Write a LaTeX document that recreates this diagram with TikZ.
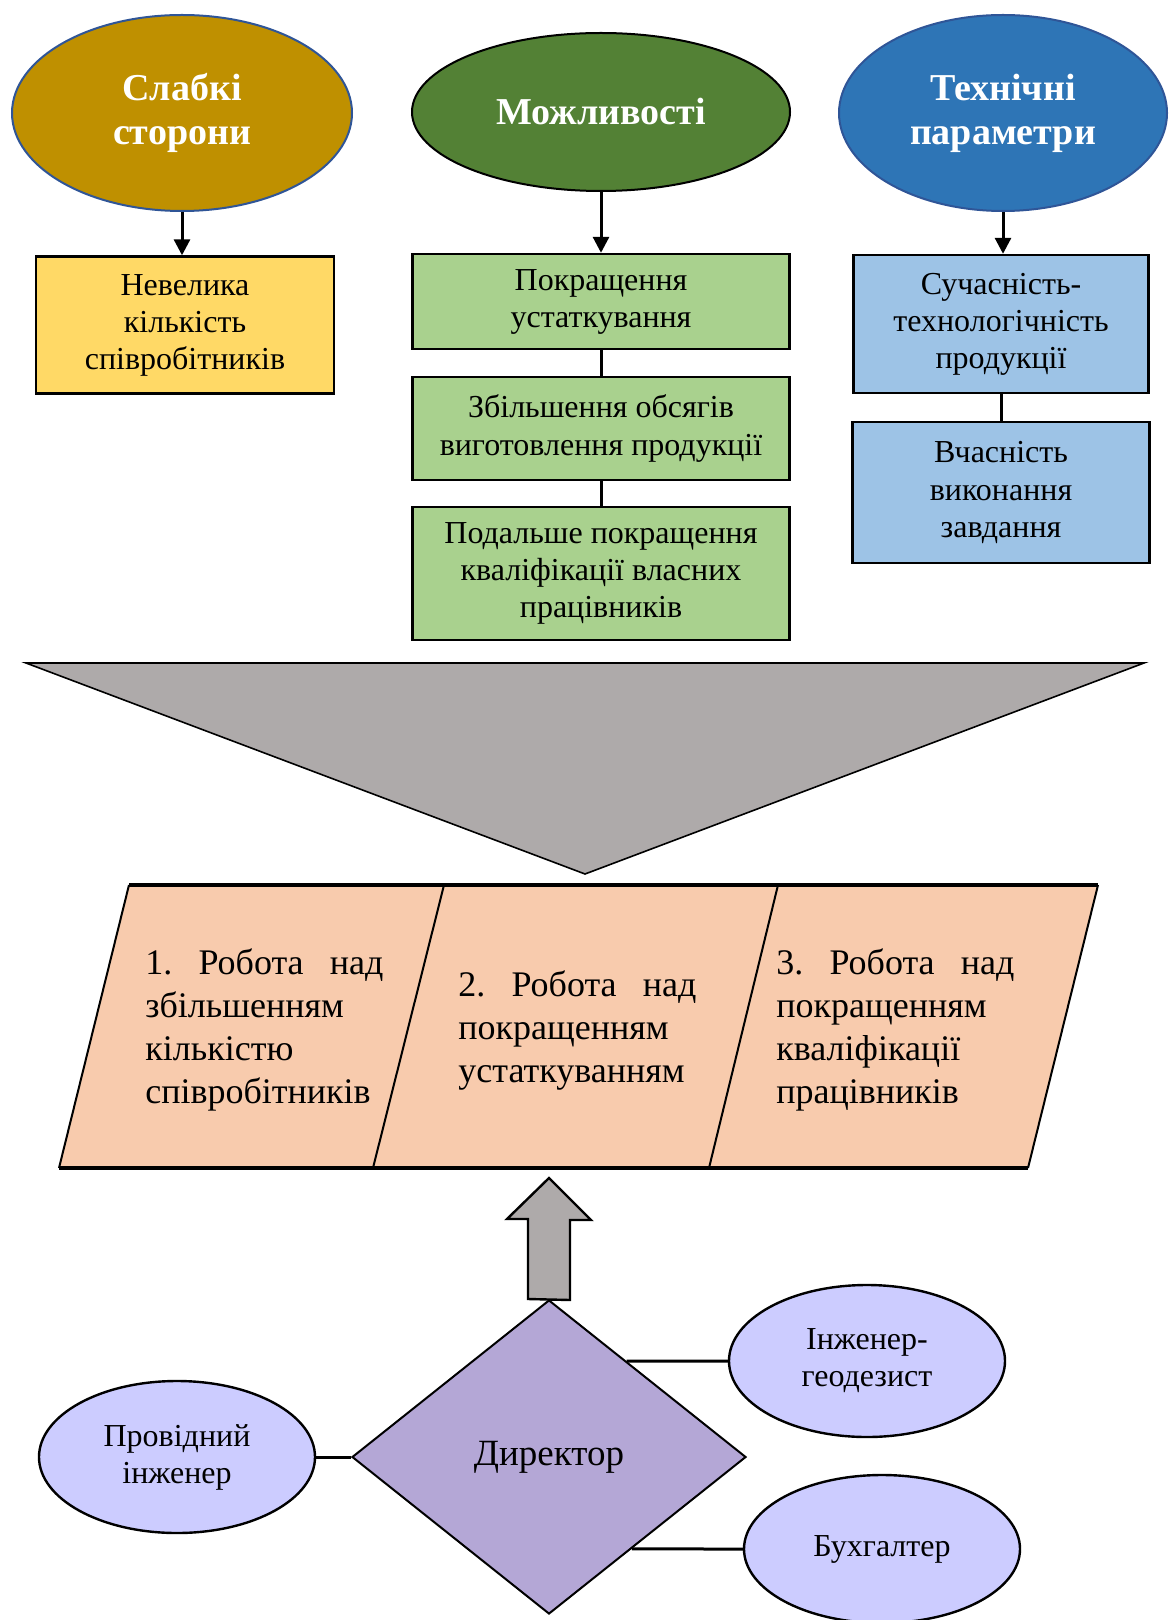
\documentclass[tikz,border=0pt]{standalone}
\usepackage{fontspec}
\setmainfont{Liberation Serif}
\usetikzlibrary{shapes.geometric}
\usetikzlibrary{arrows.meta}
\definecolor{weakc}{HTML}{BF9000}
\definecolor{chancec}{HTML}{538135}
\definecolor{techc}{HTML}{2E75B6}
\definecolor{rimc}{HTML}{2F5597}
\definecolor{yellowc}{HTML}{FFD966}
\definecolor{greenc}{HTML}{A9D18E}
\definecolor{bluec}{HTML}{9DC3E6}
\definecolor{greyc}{HTML}{AEAAAA}
\definecolor{peachc}{HTML}{F8CBAD}
\definecolor{lilac}{HTML}{B4A7D6}
\definecolor{staffc}{HTML}{CCCCFF}

\begin{document}
\begin{tikzpicture}[x=0.5pt,y=-0.5pt]
	\tikzstyle{title}=[ellipse,inner sep=0pt,line width=1pt,text=white,align=center,font=\fontsize{19}{22}\selectfont\bfseries]
	\tikzstyle{item}=[rectangle,draw=black,line width=1.2pt,inner sep=2pt,align=center,font=\fontsize{16}{18.5}\selectfont]
	\tikzstyle{staff}=[ellipse,draw=black,line width=1.2pt,fill=staffc,inner sep=0pt,minimum width=138pt,minimum height=76pt,align=center,font=\fontsize{16}{18.5}\selectfont]
	\tikzstyle{task}=[anchor=west,text width=119pt,align=left,inner sep=0pt,font=\fontsize{18}{21.5}\selectfont]
	\tikzstyle{link}=[line width=1.5pt]
	\tikzstyle{arr}=[-{Triangle[length=8pt,width=8pt]},line width=1.5pt]
	\useasboundingbox (0,0) rectangle (1169,1620);

	% top row
	\node (weak) [title, fill=weakc, draw=rimc, minimum width=170pt, minimum height=98pt] at (182,113) {Слабкі\\сторони};
	\node (chance) [title, fill=chancec, draw=black, minimum width=189pt, minimum height=79pt] at (601,112) {Можливості};
	\node (tech) [title, fill=techc, draw=rimc, minimum width=164pt, minimum height=98pt] at (1003,113) {Технічні\\параметри};

	\node (few) [item, fill=yellowc, minimum width=149pt, minimum height=68.5pt] at (185,325) {Невелика\\кількість\\співробітників};
	\node (equip) [item, fill=greenc, minimum width=188.5pt, minimum height=47.5pt] at (601,301.5) {Покращення\\устаткування};
	\node (volume) [item, fill=greenc, minimum width=188.5pt, minimum height=51.5pt] at (601,428.5) {Збільшення обсягів\\виготовлення продукції};
	\node (skill) [item, fill=greenc, minimum width=188.5pt, minimum height=66.5pt] at (601,573.5) {Подальше покращення\\кваліфікації власних\\працівників};
	\node (modern) [item, fill=bluec, minimum width=147.5pt, minimum height=69pt] at (1001,324) {Сучасність-\\технологічність\\продукції};
	\node (time) [item, fill=bluec, minimum width=148.5pt, minimum height=70.5pt] at (1001,492.5) {Вчасність\\виконання\\завдання};

	\draw[arr] (weak.south) -- (weak.south |- few.north);
	\draw[arr] (chance.south) -- (equip.north);
	\draw[arr] (tech.south) -- (tech.south |- modern.north);
	\draw[link] (equip.south) -- (volume.north);
	\draw[link] (volume.south) -- (skill.north);
	\draw[link] (modern.south) -- (modern.south |- time.north);

	% funnel
	\draw[fill=greyc, line width=0.8pt] (26,663) -- (1144,663) -- (585,874) -- cycle;

	% three tasks
	\fill[peachc] (129,885) -- (1098,885) -- (1028,1168) -- (59,1168) -- cycle;
	\draw[line width=1pt] (129,885) -- (59,1168);
	\draw[line width=1pt] (444,885) -- (373,1168);
	\draw[line width=1pt] (778,885) -- (709,1168);
	\draw[line width=1pt] (1098,885) -- (1028,1168);
	\draw[line width=1.6pt] (129,885) -- (1098,885);
	\draw[line width=1.6pt] (59,1168) -- (1028,1168);
	\node (task1) [task] at (145,1030) {1.\hfill Робота\hfill над\\збільшенням\\кількістю\\співробітників};
	\node (task2) [task] at (458,1030) {2.\hfill Робота\hfill над\\покращенням\\устаткуванням};
	\node (task3) [task] at (776,1030) {3.\hfill Робота\hfill над\\покращенням\\кваліфікації\\працівників};

	% staff
	\node (dir) [diamond, draw=black, line width=1pt, fill=lilac, inner sep=0pt, minimum width=197pt, minimum height=157pt, font=\fontsize{18.5}{22}\selectfont] at (549,1457) {Директор};
	\draw[fill=greyc, line width=1.2pt] (dir.north) ++(-21,0) -- ++(0,-80) -- ++(-21,0) -- (549,1178) -- (591,1220) -- ++(-21,0) -- ++(0,80) -- cycle;
	\node (lead) [staff] at (177,1457) {Провідний\\інженер};
	\node (geod) [staff] at (867,1361) {Інженер-\\геодезист};
	\node (acct) [staff, minimum height=74pt] at (882,1549) {Бухгалтер};
	\draw[link] (lead.east) -- (dir.west);
	\draw[link] (dir.51.4) -- (geod.west);
	\draw[link] (dir.-48.4) -- (acct.west);
\end{tikzpicture}
\end{document}
